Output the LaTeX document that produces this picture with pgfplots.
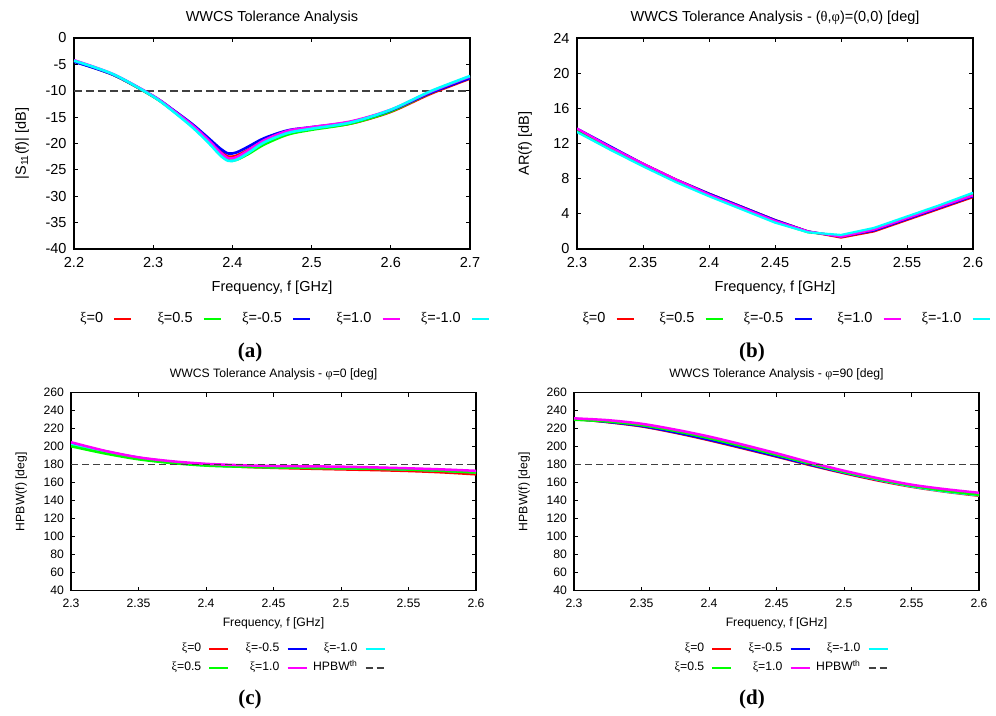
\documentclass[border=0pt]{standalone}
\usepackage{fontspec}
\setmainfont{Liberation Sans}
\newfontfamily\gr{Liberation Serif}
\newfontfamily\capfont{Liberation Serif}
\usepackage{pgfplots}
\pgfplotsset{compat=1.18}
\definecolor{gpRed}{HTML}{FF0000}
\definecolor{gpGreen}{HTML}{00FF00}
\definecolor{gpBlue}{HTML}{0000FF}
\definecolor{gpMag}{HTML}{FF00FF}
\definecolor{gpCyan}{HTML}{00FFFF}
\definecolor{gpDash}{HTML}{404040}
\newcommand\xii{{\gr ξ}}
\newcommand\bigfont{\fontsize{14.5}{17}\selectfont}
\newcommand\smallfont{\fontsize{12.2}{14}\selectfont}

\pgfplotsset{
  gp/.style={
    scale only axis,
    axis line style={line width=1.2pt},
    tick align=inside,
    major tick length=4pt,
    tick style={line width=0.9pt,black},
    /pgf/number format/assume math mode=true,
    /pgf/number format/fixed,
    /pgf/number format/precision=2,
    xlabel style={at={(axis description cs:0.5,0)},anchor=base},
    title style={at={(axis description cs:0.5,1)},anchor=base},
    ylabel style={anchor=center,rotate=0},
    legend plot pos=right,
  },
  top/.style={
    gp,
    width=396pt,height=211pt,
    tick label style={font=\bigfont},
    label style={font=\bigfont},
    title style={font=\bigfont,yshift=11pt},
    xlabel style={yshift=-42.5pt},
    xticklabel style={yshift=-5pt},
    yticklabel style={xshift=-4pt},
    legend columns=5,
    legend style={draw=none,fill=none,inner sep=0pt,anchor=west,font=\bigfont,
      nodes={inner sep=0pt,text height=11pt,text depth=4pt}},
    legend image code/.code={\draw[##1] (10pt,0pt) -- (27pt,0pt); \path (0pt,0pt) (42.8pt,0pt);},
    every axis plot/.append style={line width=2.6pt},
  },
  bot/.style={
    gp,
    width=405pt,height=198pt,
    xmin=2.3,xmax=2.6,ymin=40,ymax=260,
    xtick={2.3,2.35,2.4,2.45,2.5,2.55,2.6},
    ytick={40,60,...,260},
    tick label style={font=\smallfont},
    label style={font=\smallfont},
    title style={font=\smallfont,yshift=9.4pt},
    xlabel style={yshift=-36pt},
    xticklabel style={yshift=-4.5pt},
    yticklabel style={xshift=-3.5pt},
    xlabel={Frequency, f [GHz]},
    ylabel={HPBW(f) [deg]},
    ylabel style={at={(axis description cs:-0.123,0.5)}},
    legend columns=3,
    legend style={draw=none,fill=none,inner sep=0pt,anchor=west,font=\smallfont,
      row sep=7pt,at={(axis description cs:0.2025,-0.342)},
      nodes={inner sep=0pt,text height=9pt,text depth=3pt}},
    legend image code/.code={\draw[##1] (7pt,0pt) -- (26pt,0pt); \path (0pt,0pt) (27.6pt,0pt);},
    every axis plot/.append style={line width=2.5pt},
  },
}

\begin{document}
\begin{tikzpicture}
\useasboundingbox (0pt,0pt) rectangle (996pt,-715pt);

% (a) reflection coefficient
\begin{axis}[top,
  at={(74pt,-249pt)},anchor=south west,
  xmin=2.2,xmax=2.7,ymin=-40,ymax=0,
  xtick={2.2,2.3,2.4,2.5,2.6,2.7},
  ytick={-40,-35,...,0},
  title={WWCS Tolerance Analysis},
  xlabel={Frequency, f [GHz]},
  ylabel={|S\textsubscript{11}(f)| [dB]},
  ylabel style={at={(axis description cs:-0.131,0.5)}},
  legend style={at={(axis description cs:-0.0379,-0.332)}},
]
\addplot[gpDash,line width=1.6pt,dash pattern=on 8pt off 4pt,forget plot]
  coordinates {(2.2,-10) (2.7,-10)};
\addplot[gpRed,smooth] coordinates {
 (2.20,-4.4) (2.25,-7.0) (2.30,-11.1) (2.325,-13.7) (2.35,-16.6) (2.37,-19.3)
 (2.385,-21.5) (2.395,-22.5) (2.405,-22.3) (2.42,-21.2) (2.44,-19.5) (2.47,-17.9)
 (2.50,-17.2) (2.55,-16.2) (2.60,-14.0) (2.65,-10.6) (2.70,-7.7)};
\addlegendentry{\makebox[44pt][r]{\xii=0}}
\addplot[gpGreen,smooth] coordinates {
 (2.20,-4.4) (2.25,-7.0) (2.30,-11.1) (2.325,-13.8) (2.35,-16.8) (2.37,-19.6)
 (2.385,-22.0) (2.395,-23.2) (2.405,-23.1) (2.42,-22.0) (2.44,-20.2) (2.47,-18.3)
 (2.50,-17.4) (2.55,-16.2) (2.60,-13.9) (2.65,-10.4) (2.70,-7.4)};
\addlegendentry{\makebox[44pt][r]{\xii=0.5}}
\addplot[gpBlue,smooth] coordinates {
 (2.20,-4.5) (2.25,-7.0) (2.30,-11.0) (2.325,-13.6) (2.35,-16.4) (2.37,-19.0)
 (2.385,-21.0) (2.395,-21.9) (2.405,-21.7) (2.42,-20.6) (2.44,-19.0) (2.47,-17.5)
 (2.50,-16.9) (2.55,-15.9) (2.60,-13.7) (2.65,-10.4) (2.70,-7.6)};
\addlegendentry{\makebox[44pt][r]{\xii=-0.5}}
\addplot[gpMag,smooth] coordinates {
 (2.20,-4.2) (2.25,-6.9) (2.30,-11.0) (2.325,-13.7) (2.35,-16.6) (2.37,-19.4)
 (2.385,-21.7) (2.395,-22.8) (2.405,-22.6) (2.42,-21.3) (2.44,-19.4) (2.47,-17.6)
 (2.50,-16.9) (2.55,-15.8) (2.60,-13.6) (2.65,-10.2) (2.70,-7.3)};
\addlegendentry{\makebox[44pt][r]{\xii=1.0}}
\addplot[gpCyan,smooth] coordinates {
 (2.20,-4.3) (2.25,-6.9) (2.30,-11.1) (2.325,-13.9) (2.35,-17.0) (2.37,-19.9)
 (2.385,-22.3) (2.395,-23.3) (2.405,-23.1) (2.42,-21.8) (2.44,-19.8) (2.47,-18.0)
 (2.50,-17.2) (2.55,-16.0) (2.60,-13.6) (2.65,-10.1) (2.70,-7.2)};
\addlegendentry{\makebox[44pt][r]{\xii=-1.0}}
\end{axis}

% (b) axial ratio
\begin{axis}[top,
  at={(577pt,-249pt)},anchor=south west,
  xmin=2.3,xmax=2.6,ymin=0,ymax=24,
  xtick={2.3,2.35,2.4,2.45,2.5,2.55,2.6},
  ytick={0,4,...,24},
  title={WWCS Tolerance Analysis - ({\gr θ},{\gr φ})=(0,0) [deg]},
  xlabel={Frequency, f [GHz]},
  ylabel={AR(f) [dB]},
  ylabel style={at={(axis description cs:-0.131,0.5)}},
  legend style={at={(axis description cs:-0.0396,-0.332)}},
  every axis plot/.append style={line width=2.2pt},
]
\addplot[gpRed] coordinates {
 (2.300,13.6) (2.325,11.6) (2.350,9.7) (2.375,7.9) (2.400,6.3) (2.425,4.8) (2.450,3.3)
 (2.475,2.0) (2.500,1.3) (2.525,2.0) (2.550,3.3) (2.575,4.6) (2.600,5.9)};
\addlegendentry{\makebox[44pt][r]{\xii=0}}
\addplot[gpGreen] coordinates {
 (2.300,13.4) (2.325,11.4) (2.350,9.5) (2.375,7.7) (2.400,6.1) (2.425,4.6) (2.450,3.1)
 (2.475,1.9) (2.500,1.5) (2.525,2.3) (2.550,3.6) (2.575,4.9) (2.600,6.3)};
\addlegendentry{\makebox[44pt][r]{\xii=0.5}}
\addplot[gpBlue] coordinates {
 (2.300,13.7) (2.325,11.7) (2.350,9.7) (2.375,7.9) (2.400,6.3) (2.425,4.8) (2.450,3.3)
 (2.475,2.0) (2.500,1.4) (2.525,2.1) (2.550,3.4) (2.575,4.7) (2.600,6.0)};
\addlegendentry{\makebox[44pt][r]{\xii=-0.5}}
\addplot[gpMag] coordinates {
 (2.300,13.7) (2.325,11.6) (2.350,9.7) (2.375,7.9) (2.400,6.2) (2.425,4.7) (2.450,3.2)
 (2.475,2.0) (2.500,1.4) (2.525,2.2) (2.550,3.5) (2.575,4.8) (2.600,6.1)};
\addlegendentry{\makebox[44pt][r]{\xii=1.0}}
\addplot[gpCyan] coordinates {
 (2.300,13.3) (2.325,11.3) (2.350,9.4) (2.375,7.6) (2.400,6.0) (2.425,4.5) (2.450,3.0)
 (2.475,1.9) (2.500,1.6) (2.525,2.4) (2.550,3.7) (2.575,5.0) (2.600,6.4)};
\addlegendentry{\makebox[44pt][r]{\xii=-1.0}}
\end{axis}

% (c) HPBW phi=0
\begin{axis}[bot,
  at={(71pt,-590.7pt)},anchor=south west,
  title={WWCS Tolerance Analysis - {\gr φ}=0 [deg]},
]
\addplot[gpRed,smooth] coordinates {
 (2.300,202.5) (2.325,193.8) (2.350,187.0) (2.375,182.5) (2.400,179.8) (2.425,177.8) (2.450,176.5)
 (2.475,175.6) (2.500,174.8) (2.525,174.0) (2.550,173.0) (2.575,171.5) (2.600,169.3)};
\addlegendentry{\makebox[48pt][r]{\xii=0}}
\addplot[gpBlue,smooth] coordinates {
 (2.300,203.5) (2.325,195.0) (2.350,187.8) (2.375,183.0) (2.400,180.3) (2.425,178.8) (2.450,178.0)
 (2.475,177.5) (2.500,177.0) (2.525,176.4) (2.550,175.4) (2.575,174.0) (2.600,172.0)};
\addlegendentry{\makebox[48pt][r]{\xii=-0.5}}
\addplot[gpCyan,smooth] coordinates {
 (2.300,202.0) (2.325,193.8) (2.350,186.8) (2.375,182.2) (2.400,179.3) (2.425,178.0) (2.450,177.2)
 (2.475,176.7) (2.500,176.2) (2.525,175.6) (2.550,174.7) (2.575,173.3) (2.600,171.5)};
\addlegendentry{\makebox[48pt][r]{\xii=-1.0}}
\addplot[gpGreen,smooth] coordinates {
 (2.300,200.5) (2.325,192.5) (2.350,186.0) (2.375,181.8) (2.400,179.0) (2.425,177.8) (2.450,177.0)
 (2.475,176.4) (2.500,176.0) (2.525,175.5) (2.550,174.6) (2.575,173.2) (2.600,171.3)};
\addlegendentry{\makebox[48pt][r]{\xii=0.5}}
\addplot[gpMag,smooth] coordinates {
 (2.300,205.0) (2.325,195.5) (2.350,188.2) (2.375,183.8) (2.400,181.0) (2.425,179.5) (2.450,178.6)
 (2.475,178.2) (2.500,177.8) (2.525,177.0) (2.550,176.0) (2.575,174.8) (2.600,173.2)};
\addlegendentry{\makebox[48pt][r]{\xii=1.0}}
\addplot[gpDash,line width=1.3pt,dash pattern=on 7pt off 4pt]
  coordinates {(2.3,180) (2.6,180)};
\addlegendentry{\makebox[48pt][r]{HPBW\textsuperscript{th}}}
\end{axis}

% (d) HPBW phi=90
\begin{axis}[bot,
  at={(574pt,-590.7pt)},anchor=south west,
  title={WWCS Tolerance Analysis - {\gr φ}=90 [deg]},
]
\addplot[gpRed,smooth] coordinates {
 (2.300,231.0) (2.325,227.3) (2.350,222.6) (2.375,215.5) (2.400,207.2) (2.425,198.2) (2.450,189.0)
 (2.475,179.5) (2.500,170.6) (2.525,162.5) (2.550,155.5) (2.575,150.0) (2.600,145.5)};
\addlegendentry{\makebox[48pt][r]{\xii=0}}
\addplot[gpBlue,smooth] coordinates {
 (2.300,231.0) (2.325,227.5) (2.350,223.0) (2.375,216.0) (2.400,207.8) (2.425,198.8) (2.450,189.5)
 (2.475,180.0) (2.500,171.2) (2.525,163.2) (2.550,156.3) (2.575,151.0) (2.600,147.0)};
\addlegendentry{\makebox[48pt][r]{\xii=-0.5}}
\addplot[gpCyan,smooth] coordinates {
 (2.300,231.0) (2.325,228.5) (2.350,224.3) (2.375,217.8) (2.400,209.8) (2.425,200.8) (2.450,191.2)
 (2.475,181.2) (2.500,171.8) (2.525,163.5) (2.550,156.0) (2.575,150.3) (2.600,146.0)};
\addlegendentry{\makebox[48pt][r]{\xii=-1.0}}
\addplot[gpGreen,smooth] coordinates {
 (2.300,230.0) (2.325,228.0) (2.350,224.0) (2.375,217.5) (2.400,209.5) (2.425,200.5) (2.450,191.0)
 (2.475,181.3) (2.500,172.0) (2.525,163.8) (2.550,156.6) (2.575,151.0) (2.600,146.5)};
\addlegendentry{\makebox[48pt][r]{\xii=0.5}}
\addplot[gpMag,smooth] coordinates {
 (2.300,231.5) (2.325,229.5) (2.350,225.5) (2.375,219.0) (2.400,211.3) (2.425,202.3) (2.450,192.7)
 (2.475,182.6) (2.500,173.3) (2.525,165.0) (2.550,157.8) (2.575,152.8) (2.600,148.8)};
\addlegendentry{\makebox[48pt][r]{\xii=1.0}}
\addplot[gpDash,line width=1.3pt,dash pattern=on 7pt off 4pt]
  coordinates {(2.3,180) (2.6,180)};
\addlegendentry{\makebox[48pt][r]{HPBW\textsuperscript{th}}}
\end{axis}

% panel captions
\node[font=\capfont\bfseries\fontsize{21}{24}\selectfont] at (250pt,-352pt) {(a)};
\node[font=\capfont\bfseries\fontsize{21}{24}\selectfont] at (752pt,-352pt) {(b)};
\node[font=\capfont\bfseries\fontsize{21}{24}\selectfont] at (250pt,-699pt) {(c)};
\node[font=\capfont\bfseries\fontsize{21}{24}\selectfont] at (752pt,-699pt) {(d)};
\end{tikzpicture}
\end{document}
